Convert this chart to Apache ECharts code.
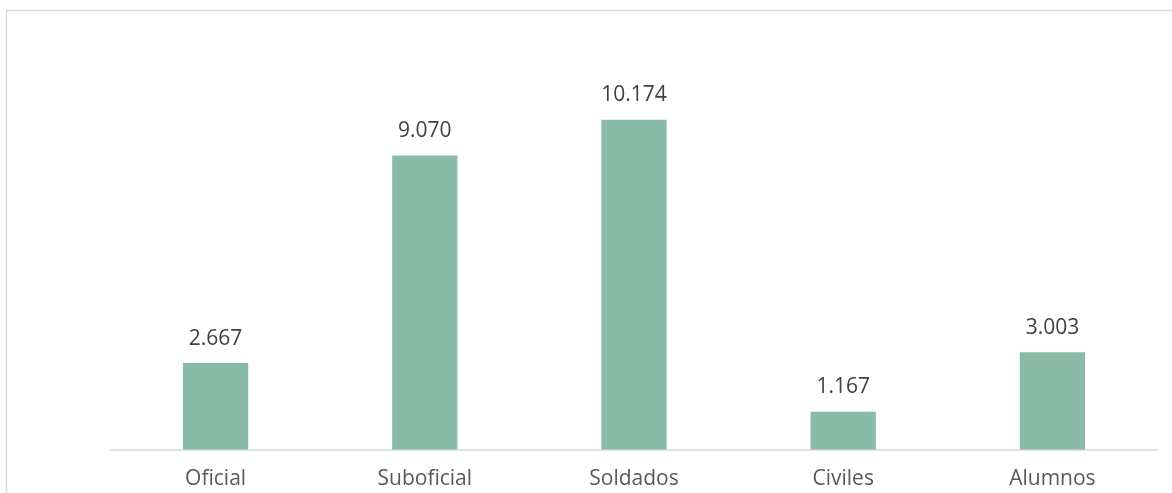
<!DOCTYPE html>
<html>
<head>
<meta charset="utf-8">
<script src="https://cdn.jsdelivr.net/npm/echarts@6/dist/echarts.min.js"></script>
<style>
  html, body { margin: 0; padding: 0; background: #fff; }
  #chart { width: 1172px; height: 493px; }
</style>
</head>
<body>
<div id="chart"></div>
<script>
// Personnel by category
const categories = ['Oficial', 'Suboficial', 'Soldados', 'Civiles', 'Alumnos'];
const values = [2667, 9070, 10174, 1167, 3003];

// Spanish-style thousands separator for the value labels
function fmt(v) {
  return String(v).replace(/\B(?=(\d{3})+(?!\d))/g, '.');
}

const chart = echarts.init(document.getElementById('chart'), null, { renderer: 'canvas' });

chart.setOption({
  animation: false,
  backgroundColor: '#ffffff',
  textStyle: { fontFamily: 'Open Sans' },
  graphic: [{
    type: 'rect',
    shape: { x: 6.5, y: 10.5, width: 1300, height: 600 },
    style: { fill: 'none', stroke: '#d9d9d9', lineWidth: 1.3 },
    silent: true
  }],
  grid: { left: 111, right: 15, top: 60.5, bottom: 43.5, containLabel: false },
  xAxis: {
    type: 'category',
    data: categories,
    axisTick: { show: false },
    axisLine: { lineStyle: { color: '#d9d9d9', width: 1.5 } },
    axisLabel: { color: '#595959', fontSize: 21, margin: 19 }
  },
  yAxis: {
    type: 'value',
    min: 0,
    max: 12000,
    interval: 2000,
    show: false,
    splitLine: { show: false }
  },
  series: [{
    type: 'bar',
    data: values,
    barWidth: '31.2%',
    itemStyle: { color: '#89bba8' },
    label: {
      show: true,
      position: 'top',
      distance: 14,
      color: '#404040',
      fontSize: 21,
      formatter: p => fmt(p.value)
    }
  }]
});
</script>
</body>
</html>
